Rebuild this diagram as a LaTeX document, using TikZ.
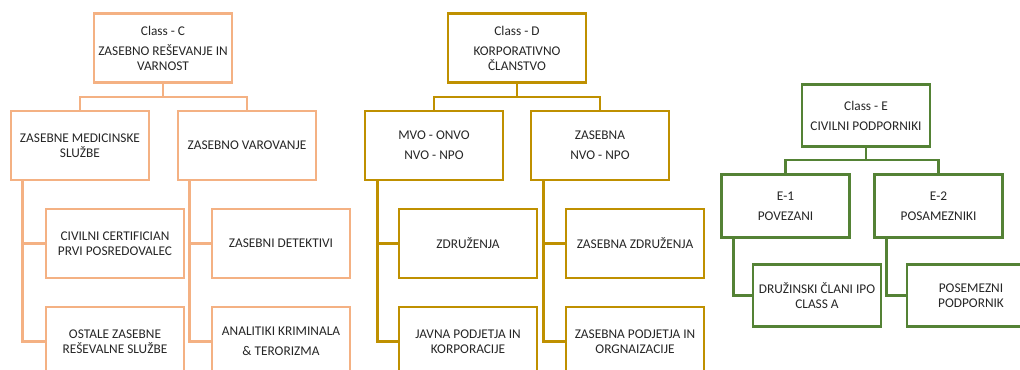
\documentclass[tikz,border=0pt]{standalone}
\usepackage{fontspec}
\setmainfont{Carlito}
\definecolor{orangeC}{HTML}{F4B183}
\definecolor{goldD}{HTML}{BF9000}
\definecolor{greenE}{HTML}{548235}
\definecolor{textgray}{HTML}{262626}
\tikzset{
  box/.style={draw, line width=2.2pt, fill=white, align=center, inner sep=2pt,
    font=\fontsize{10}{11.25}\selectfont, text=textgray},
  boxC/.style={box, draw=orangeC, minimum width=103.5pt, minimum height=51.75pt},
  boxD/.style={box, draw=goldD, minimum width=103.5pt, minimum height=51.75pt},
  boxE/.style={box, draw=greenE, minimum width=96pt, minimum height=47pt},
  linkC/.style={draw=orangeC, line width=2.2pt},
  linkD/.style={draw=goldD, line width=2.2pt},
  linkE/.style={draw=greenE, line width=2.2pt}
}
\begin{document}
\begin{tikzpicture}[x=0.75pt,y=-0.75pt]
			\useasboundingbox (0,0) rectangle (1020,370);
			\clip (0,0) rectangle (1020,370);
			% Class C
			\node[boxC] (C_0) at (163,48) {Class - C\\[3.75pt]ZASEBNO REŠEVANJE IN\\VARNOST};
			\node[boxC] (C_1) at (80,145.5) {ZASEBNE MEDICINSKE\\SLUŽBE};
			\node[boxC] (C_2) at (247,145.5) {ZASEBNO VAROVANJE};
			\node[boxC] (C_11) at (115,243.5) {CIVILNI CERTIFICIAN\\PRVI POSREDOVALEC};
			\node[boxC] (C_12) at (115,341.5) {OSTALE ZASEBNE\\REŠEVALNE SLUŽBE};
			\node[boxC] (C_21) at (281,243.5) {ZASEBNI DETEKTIVI};
			\node[boxC] (C_22) at (281,341.5) {ANALITIKI KRIMINALA\\[3.75pt]\& TERORIZMA};
			\coordinate (C_j) at (163,97);
			\draw[linkC] (C_0) -- (C_j);
			\draw[linkC] (C_j) -| (C_1);
			\draw[linkC] (C_j) -| (C_2);
			\draw[linkC] (C_1.south west) ++(13,0) |- (C_11);
			\draw[linkC] (C_1.south west) ++(13,0) |- (C_12);
			\draw[linkC] (C_2.south west) ++(13,0) |- (C_21);
			\draw[linkC] (C_2.south west) ++(13,0) |- (C_22);
			% Class D
			\node[boxD] (D_0) at (517,48) {Class - D\\[3.75pt]KORPORATIVNO\\ČLANSTVO};
			\node[boxD] (D_1) at (434,145.5) {MVO - ONVO\\[3.75pt]NVO - NPO};
			\node[boxD] (D_2) at (600,145.5) {ZASEBNA\\[3.75pt]NVO - NPO};
			\node[boxD] (D_11) at (468,243.5) {ZDRUŽENJA};
			\node[boxD] (D_12) at (468,341.5) {JAVNA PODJETJA IN\\KORPORACIJE};
			\node[boxD] (D_21) at (635,243.5) {ZASEBNA ZDRUŽENJA};
			\node[boxD] (D_22) at (635,341.5) {ZASEBNA PODJETJA IN\\ORGNAIZACIJE};
			\coordinate (D_j) at (517,97);
			\draw[linkD] (D_0) -- (D_j);
			\draw[linkD] (D_j) -| (D_1);
			\draw[linkD] (D_j) -| (D_2);
			\draw[linkD] (D_1.south west) ++(14,0) |- (D_11);
			\draw[linkD] (D_1.south west) ++(14,0) |- (D_12);
			\draw[linkD] (D_2.south west) ++(14,0) |- (D_21);
			\draw[linkD] (D_2.south west) ++(14,0) |- (D_22);
			% Class E
			\node[boxE] (E_0) at (866,115.5) {Class - E\\[3.75pt]CIVILNI PODPORNIKI};
			\node[boxE] (E_1) at (785.5,206) {E-1\\[3.75pt]POVEZANI};
			\node[boxE] (E_2) at (938.5,206) {E-2\\[3.75pt]POSAMEZNIKI};
			\node[boxE] (E_11) at (817,295.5) {DRUŽINSKI ČLANI IPO\\CLASS A};
			\node[boxE] (E_21) at (971,295.5) {POSEMEZNI\\PODPORNIK};
			\coordinate (E_j) at (866,160);
			\draw[linkE] (E_0) -- (E_j);
			\draw[linkE] (E_j) -| (E_1);
			\draw[linkE] (E_j) -| (E_2);
			\draw[linkE] (E_1.south west) ++(13,0) |- (E_11);
			\draw[linkE] (E_2.south west) ++(13,0) |- (E_21);
		\end{tikzpicture}
\end{document}
